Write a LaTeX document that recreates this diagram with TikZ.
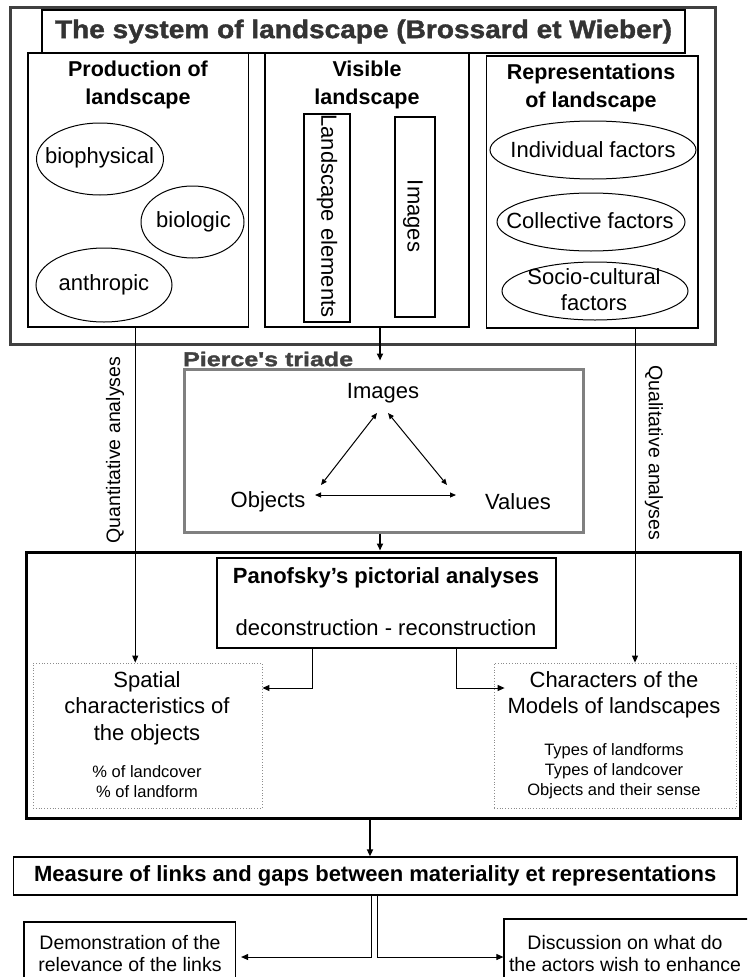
\documentclass[tikz,border=0pt]{standalone}
\usepackage{fontspec}
\setmainfont{Liberation Sans}
\newfontfamily\titlefont{Liberation Sans Bold}[FakeBold=1.5, FakeStretch=1.1]
\newfontfamily\piercefont{Liberation Sans Bold}[FakeBold=1.5, FakeStretch=1.25]
\usetikzlibrary{arrows.meta,shapes.geometric,calc}
\begin{document}
\begin{tikzpicture}[x=1pt,y=-1pt,
  box/.style={draw, inner sep=0pt},
  txt/.style={inner sep=0pt, align=center, font=\fontsize{22}{26}\selectfont},
  hdr/.style={inner sep=0pt, align=center, font=\bfseries\fontsize{21.5}{28}\selectfont},
  ell/.style={draw, ellipse, inner sep=0pt, line width=1pt},
  arr/.style={line width=1pt, -{Triangle[length=7pt,width=6pt]}},
  darr/.style={line width=1pt, {Triangle[length=6pt,width=5pt]}-{Triangle[length=6pt,width=5pt]}},
]
\useasboundingbox (0,0) rectangle (747,977);
\clip (0,0) rectangle (747,977);
\fill[white] (0,0) rectangle (747,977);

% ---------- top system ----------
\node[box, line width=3pt, draw=black!75, minimum width=705pt, minimum height=337pt] (outer) at (362.5,175.5) {};
\node[box, line width=1.3pt, minimum width=643pt, minimum height=43pt, font=\titlefont\fontsize{25.5}{30}\selectfont, text=black!80] (title) at (363.5,31.5) {The system of landscape (Brossard et Wieber)};

\node[box, line width=1.3pt, minimum width=220.5pt, minimum height=274pt] (prod) at (138.25,190) {};
\node[box, line width=1.3pt, minimum width=204pt, minimum height=274pt] (vis) at (367,190) {};
\node[box, line width=1.3pt, minimum width=211.5pt, minimum height=272pt] (rep) at (592.25,192) {};

\node[hdr] (prodt) at (138,85) {Production of\\landscape};
\node[hdr] (vist) at (367,85) {Visible\\landscape};
\node[hdr] (rept) at (591,88) {Representations\\of landscape};

\node[ell, minimum width=127pt, minimum height=72pt] (bio) at (100,159) {};
\node[txt] (biot) at (99.5,158) {biophysical};
\node[ell, minimum width=103pt, minimum height=72pt] (biol) at (192.5,222) {};
\node[txt] (biolt) at (193.5,222) {biologic};
\node[ell, minimum width=136pt, minimum height=74pt] (anth) at (104,285) {};
\node[txt] (antht) at (104,285) {anthropic};

\node[box, line width=1.2pt, minimum width=46pt, minimum height=208pt] (le) at (327,218) {};
\node[txt, rotate=-90] (let) at (327,216) {Landscape elements};
\node[box, line width=1.2pt, minimum width=40pt, minimum height=200pt] (im) at (415,217) {};
\node[txt, rotate=-90] (imt) at (413,216) {Images};

\node[ell, minimum width=206pt, minimum height=58pt] (ind) at (593,150) {};
\node[txt] (indt) at (593,150) {Individual factors};
\node[ell, minimum width=188pt, minimum height=58pt] (col) at (591,222) {};
\node[txt] (colt) at (590,221) {Collective factors};
\node[ell, minimum width=186pt, minimum height=58pt] (soc) at (595,291) {};
\node[txt] (soct) at (594,290) {Socio-cultural\\factors};

% ---------- Pierce ----------
\node[box, draw=black!50, line width=3pt, minimum width=399pt, minimum height=163pt] (pierce) at (383.5,450.5) {};
\node[anchor=west, inner sep=0pt, font=\piercefont\fontsize{20}{24}\selectfont, text=black!75] (piercet) at (183,359) {Pierce's triade};

\node[txt] (img) at (383,393) {Images};
\node[txt] (obj) at (268,502) {Objects};
\node[txt] (val) at (518,502) {Values};
\coordinate (a1) at (377,413);
\coordinate (a2) at (321,485);
\coordinate (b1) at (388,413);
\coordinate (b2) at (447,485);
\coordinate (c1) at (315,495);
\coordinate (c2) at (456,495);
\draw[darr] (a1) -- (a2);
\draw[darr] (b1) -- (b2);
\draw[darr] (c1) -- (c2);

\node[txt, rotate=90, font=\fontsize{19.5}{22}\selectfont] (quant) at (115,450) {Quantitative analyses};
\node[txt, rotate=-90, font=\fontsize{19.5}{22}\selectfont] (qual) at (654,453) {Qualitative analyses};

% ---------- Panofsky ----------
\node[box, line width=3pt, minimum width=714pt, minimum height=266pt] (panout) at (383,685) {};
\node[box, line width=1.3pt, minimum width=339pt, minimum height=90pt] (pin) at (386.5,603) {};
\node[inner sep=0pt, font=\bfseries\fontsize{22}{26}\selectfont] (pant) at (386,578) {Panofsky's pictorial analyses};
\node[txt] (dec) at (386,628) {deconstruction - reconstruction};

\node[box, draw=black!45, dotted, line width=0.8pt, minimum width=229pt, minimum height=145pt] (spat) at (147.5,735.5) {};
\node[box, draw=black!45, dotted, line width=0.8pt, minimum width=242pt, minimum height=145pt] (chr) at (615,735.5) {};
\node[txt, font=\fontsize{22}{26.5}\selectfont] (spatt) at (147,708) {Spatial\\characteristics of\\the objects};
\node[txt, font=\fontsize{16.5}{19.5}\selectfont] (spats) at (147,781.5) {\% of landcover\\\% of landform};
\node[txt, font=\fontsize{22}{26}\selectfont] (chrt) at (614,695) {Characters of the\\Models of landscapes};
\node[txt, font=\fontsize{16.5}{20}\selectfont] (chrs) at (614,771) {Types of landforms\\Types of landcover\\Objects and their sense};

% ---------- Measure ----------
\node[box, line width=1.3pt, minimum width=723.5pt, minimum height=38pt, font=\bfseries\fontsize{22}{26}\selectfont] (meas) at (375.25,876) {Measure of links and gaps between materiality et representations};
\node[box, line width=1.2pt, minimum width=211.5pt, minimum height=63pt] (demo) at (129.75,953.5) {};
\node[txt, font=\fontsize{19.5}{22}\selectfont] (demot) at (130,954) {Demonstration of the\\relevance of the links};
\node[box, line width=1.2pt, minimum width=256pt, minimum height=66pt] (disc) at (632,952) {};
\node[txt, font=\fontsize{19.5}{22}\selectfont] (disct) at (625,954) {Discussion on what do\\the actors wish to enhance};

% ---------- connectors ----------
\draw[arr] ([xshift=-3pt]prod.south) -- ([xshift=-3pt]prod.south |- spat.north);
\draw[arr] ([xshift=42.75pt]rep.south) -- ([xshift=42.75pt]rep.south |- chr.north);
\draw[arr, line width=1.8pt] ([xshift=13pt]vis.south) -- ([xshift=13pt,yshift=7pt]vis.south |- pierce.north);
\draw[arr, line width=1.8pt] ([xshift=-3.5pt]pierce.south) -- ([xshift=-3.5pt]pierce.south |- panout.north);
\draw[arr, line width=1.8pt] ([xshift=-13pt]panout.south) -- ([xshift=-13pt]panout.south |- meas.north);
\draw[arr] ([xshift=-74pt]pin.south) |- ([yshift=47.5pt]spat.east);
\draw[arr] ([xshift=69.5pt]pin.south) |- ([xshift=11pt,yshift=47.5pt]chr.west);
\draw[arr] ([xshift=-4.25pt]meas.south) |- ([xshift=5pt,yshift=-3.5pt]demo.east);
\draw[arr] ([xshift=1.75pt]meas.south) |- ([yshift=-5pt]disc.west);
\end{tikzpicture}
\end{document}
